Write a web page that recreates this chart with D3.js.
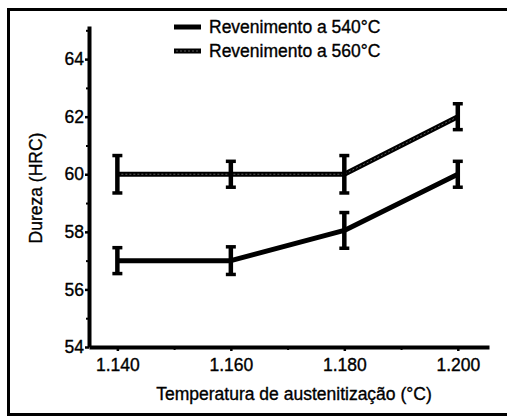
<!DOCTYPE html>
<html><head><meta charset="utf-8">
<script src="https://cdn.jsdelivr.net/npm/d3@7/dist/d3.min.js"></script>
<style>
html,body{margin:0;padding:0;background:#fff;}
text{font-family:"Liberation Sans",Arial,Helvetica,sans-serif;fill:#000;stroke:#000;stroke-width:0.35px;}
</style></head><body>
<svg id="chart" width="507" height="417"></svg>
<script>
const temps = [1.140, 1.160, 1.180, 1.200];
const xTickLabels = ["1.140", "1.160", "1.180", "1.200"];
const yTicks = [54, 56, 58, 60, 62, 64];
const seriesNames = ["Revenimento a 540°C", "Revenimento a 560°C"];
const hard540 = [57, 57, 58.05, 60];
const err540 = [0.45, 0.48, 0.62, 0.45];
const hard560 = [60, 60, 60, 62];
const err560 = [0.65, 0.45, 0.65, 0.45];

const svg = d3.select("#chart");
const x = d3.scaleLinear().domain([1.135, 1.2055]).range([89, 489]);
const y = d3.scaleLinear().domain([54, 65.15]).range([347, 26]);

// frame
svg.append("rect").attr("x", 8.5).attr("y", 9.5).attr("width", 510).attr("height", 405)
  .attr("fill", "none").attr("stroke", "#000").attr("stroke-width", 3);

// axes
const yAxis = d3.axisLeft(y).tickValues(yTicks).tickSize(4).tickSizeOuter(0).tickPadding(1).tickFormat(d3.format("d"));
const gy = svg.append("g").attr("transform", "translate(89,0)").call(yAxis);
const xAxis = d3.axisBottom(x).tickValues(temps).tickSize(4).tickSizeOuter(0).tickPadding(8)
  .tickFormat((d, i) => xTickLabels[i]);
const gx = svg.append("g").attr("transform", "translate(0,347)").call(xAxis);
[gx, gy].forEach(g => {
  g.select(".domain").attr("stroke", "#000").attr("stroke-width", 4);
  g.selectAll(".tick line").attr("stroke", "#000").attr("stroke-width", 2.5);
  g.selectAll(".tick text").attr("font-size", 17.5).attr("font-family", "Liberation Sans, Arial, sans-serif");
});
// minor ticks
const yMinor = d3.axisLeft(y).tickValues([55, 57, 59, 61, 63, 65]).tickSize(3).tickFormat("");
svg.append("g").attr("transform", "translate(89,0)").call(yMinor)
  .call(g => { g.select(".domain").remove(); g.selectAll("line").attr("stroke-width", 2); });
const xMinor = d3.axisBottom(x).tickValues([1.150, 1.170, 1.190]).tickSize(3).tickFormat("");
svg.append("g").attr("transform", "translate(0,347)").call(xMinor)
  .call(g => { g.select(".domain").remove(); g.selectAll("line").attr("stroke-width", 2); });

// axis titles
svg.append("text").attr("x", 294).attr("y", 400).attr("text-anchor", "middle")
  .attr("font-size", 17.5).text("Temperatura de austenitização (°C)");
svg.append("text").attr("transform", "translate(42,188) rotate(-90)").attr("text-anchor", "middle")
  .attr("font-size", 17.5).text("Dureza (HRC)");

// series
const line = d3.line().x(d => x(d[0])).y(d => y(d[1]));
function drawSeries(vals, errs, striped) {
  const pts = temps.map((t, i) => [t, vals[i], errs[i]]);
  svg.append("path").datum(pts).attr("d", line).attr("fill", "none")
    .attr("stroke", "#000").attr("stroke-width", 5).attr("stroke-linejoin", "round");
  if (striped) {
    svg.append("path").datum(pts).attr("d", line).attr("fill", "none")
      .attr("stroke", "#6a6a6a").attr("stroke-width", 0.9).attr("stroke-dasharray", "2,2");
  }
  const g = svg.append("g");
  g.selectAll(".eb").data(pts).enter().append("line")
    .attr("x1", d => x(d[0])).attr("x2", d => x(d[0]))
    .attr("y1", d => y(d[1] - d[2])).attr("y2", d => y(d[1] + d[2]))
    .attr("stroke", "#000").attr("stroke-width", 4.5);
  ["-", "+"].forEach(s => {
    g.selectAll(".cap" + (s === "-" ? "a" : "b")).data(pts).enter().append("line")
      .attr("x1", d => x(d[0]) - 5).attr("x2", d => x(d[0]) + 5)
      .attr("y1", d => y(s === "-" ? d[1] - d[2] : d[1] + d[2]))
      .attr("y2", d => y(s === "-" ? d[1] - d[2] : d[1] + d[2]))
      .attr("stroke", "#000").attr("stroke-width", 3.5);
  });
}
drawSeries(hard560, err560, true);
drawSeries(hard540, err540, false);

// legend
const leg = svg.append("g");
seriesNames.forEach((name, i) => {
  const yy = 27 + i * 24;
  leg.append("line").attr("x1", 174).attr("x2", 201).attr("y1", yy).attr("y2", yy)
    .attr("stroke", "#000").attr("stroke-width", 5);
  if (i === 1) leg.append("line").attr("x1", 176).attr("x2", 199).attr("y1", yy).attr("y2", yy)
    .attr("stroke", "#6a6a6a").attr("stroke-width", 0.9).attr("stroke-dasharray", "2,2");
  leg.append("text").attr("x", 209).attr("y", yy + 6).attr("font-size", 17.5).text(name);
});
</script></body></html>
